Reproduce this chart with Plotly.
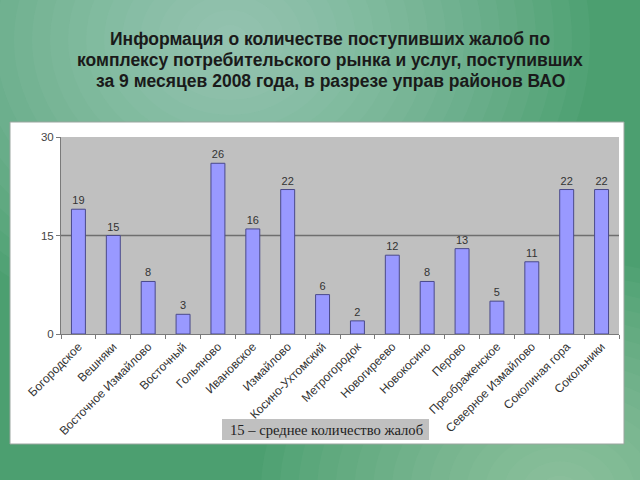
import plotly.graph_objects as go

districts = ["Богородское", "Вешняки", "Восточное Измайлово", "Восточный", "Гольяново",
             "Ивановское", "Измайлово", "Косино-Ухтомский", "Метрогородок", "Новогиреево",
             "Новокосино", "Перово", "Преображенское", "Северное Измайлово",
             "Соколиная гора", "Сокольники"]
complaints = [19, 15, 8, 3, 26, 16, 22, 6, 2, 12, 8, 13, 5, 11, 22, 22]
avg_value = 15
y_ticks = [0, 15, 30]
title_lines = ["Информация о количестве поступивших жалоб по",
               "комплексу потребительского рынка и услуг, поступивших",
               "за 9 месяцев 2008 года, в разрезе управ районов ВАО"]
note_text = "15 – среднее количество жалоб"

W, H = 640, 480

def px(x):
    return x / W

def py(y):
    return 1 - y / H

fig = go.Figure()
fig.add_trace(go.Bar(
    x=districts, y=complaints,
    marker=dict(color="#9999ff", line=dict(color="#4a4a8a", width=1)),
    text=complaints, textposition="outside", cliponaxis=False,
    textfont=dict(family="Liberation Sans, Arial", size=11, color="#333333"),
    width=0.4,
))

shapes = []
def glow(cx, cy, rmax, color, n=12, op=0.07, sx=1.0):
    for i in range(n):
        r = rmax * (1 - i / n)
        shapes.append(dict(type="circle", xref="paper", yref="paper",
                           x0=px(cx - r * sx), x1=px(cx + r * sx), y0=py(cy + r), y1=py(cy - r),
                           fillcolor=color, opacity=op, line=dict(width=0), layer="below"))

glow(230, 40, 300, "#d8f0e2", n=20, op=0.045, sx=1.2)
glow(560, 490, 230, "#d0ecdc", n=16, op=0.045, sx=1.3)

# white panel
shapes.append(dict(type="rect", xref="paper", yref="paper",
                   x0=px(10), x1=px(624), y0=py(444), y1=py(122),
                   fillcolor="white", line=dict(color="#9aa59f", width=1), layer="below"))
# gray plot area
shapes.append(dict(type="rect", xref="x domain", yref="y domain",
                   x0=0, x1=1, y0=0, y1=1,
                   fillcolor="#c0c0c0", line=dict(width=0), layer="below"))
# average line
shapes.append(dict(type="line", xref="x domain", yref="y",
                   x0=0, x1=1, y0=avg_value, y1=avg_value,
                   line=dict(color="#6e6e6e", width=1.5), layer="below"))
# note box background
shapes.append(dict(type="rect", xref="paper", yref="paper",
                   x0=px(222), x1=px(429), y0=py(440), y1=py(419),
                   fillcolor="#c0c0c0", line=dict(width=0), layer="below"))

title_y = [39, 60, 81]
annotations = [
    dict(text="<b>" + t + "</b>", xref="paper", yref="paper",
         x=px(330), y=py(yy), xanchor="center", yanchor="middle", showarrow=False,
         font=dict(family="Liberation Sans, Arial", size=17.5, color="#1a1a1a"))
    for t, yy in zip(title_lines, title_y)
]
annotations.append(
    dict(text=note_text, xref="paper", yref="paper",
         x=px(228), y=py(429.5), xanchor="left", yanchor="middle", showarrow=False,
         font=dict(family="Liberation Serif, Times New Roman", size=14.6, color="#222222")))

fig.update_layout(
    template="none",
    width=W, height=H,
    margin=dict(l=0, r=0, t=0, b=0, autoexpand=False),
    paper_bgcolor="#4c9f70",
    plot_bgcolor="rgba(0,0,0,0)",
    showlegend=False,
    bargap=0.6,
    shapes=shapes,
    xaxis=dict(domain=[px(61), px(619)], range=[-0.5, 15.5], automargin=False,
               tickangle=-45, tickfont=dict(family="Liberation Sans, Arial", size=12, color="#333333"),
               showline=True, linecolor="#7a7a7a", linewidth=1,
               ticks="outside", ticklen=4, tickcolor="#7a7a7a", tickson="boundaries",
               showgrid=False, fixedrange=True),
    yaxis=dict(domain=[py(334), py(137)], range=[0, 30], automargin=False,
               tickvals=y_ticks, tickfont=dict(family="Liberation Sans, Arial", size=11.5, color="#444444"),
               showline=True, linecolor="#7a7a7a", linewidth=1,
               ticks="outside", ticklen=4, tickcolor="#7a7a7a",
               showgrid=False, zeroline=False, fixedrange=True),
    annotations=annotations,
)

fig.write_html("out.html")
